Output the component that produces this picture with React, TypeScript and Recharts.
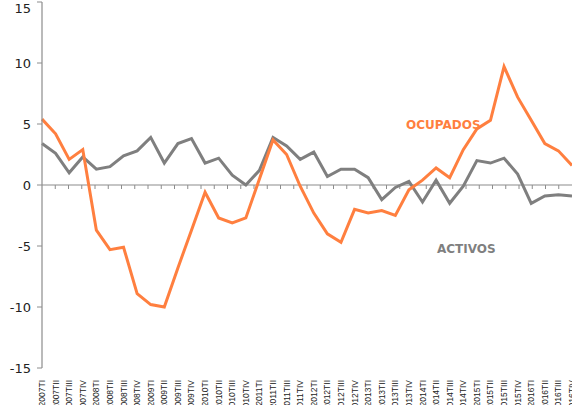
import React from "react";
import { LineChart, Line, XAxis, YAxis, ReferenceLine } from "recharts";

const quarters = [
  "2007TI", "2007TII", "2007TIII", "2007TIV",
  "2008TI", "2008TII", "2008TIII", "2008TIV",
  "2009TI", "2009TII", "2009TIII", "2009TIV",
  "2010TI", "2010TII", "2010TIII", "2010TIV",
  "2011TI", "2011TII", "2011TIII", "2011TIV",
  "2012TI", "2012TII", "2012TIII", "2012TIV",
  "2013TI", "2013TII", "2013TIII", "2013TIV",
  "2014TI", "2014TII", "2014TIII", "2014TIV",
  "2015TI", "2015TII", "2015TIII", "2015TIV",
  "2016TI", "2016TII", "2016TIII", "2016TIV",
];

const ocupados = [
  5.4, 4.2, 2.1, 2.9,
  -3.7, -5.3, -5.1, -8.9,
  -9.8, -10.0, -6.8, -3.7,
  -0.6, -2.7, -3.1, -2.7,
  0.5, 3.7, 2.5, -0.1,
  -2.3, -4.0, -4.7, -2.0,
  -2.3, -2.1, -2.5, -0.4,
  0.4, 1.4, 0.6, 2.9,
  4.6, 5.3, 9.7, 7.2,
  5.3, 3.4, 2.8, 1.6,
];

const activos = [
  3.4, 2.6, 1.0, 2.3,
  1.3, 1.5, 2.4, 2.8,
  3.9, 1.8, 3.4, 3.8,
  1.8, 2.2, 0.8, 0.0,
  1.2, 3.9, 3.2, 2.1,
  2.7, 0.7, 1.3, 1.3,
  0.6, -1.2, -0.2, 0.3,
  -1.4, 0.4, -1.5, -0.1,
  2.0, 1.8, 2.2, 0.9,
  -1.5, -0.9, -0.8, -0.9,
];

const yTicks = [-15, -10, -5, 0, 5, 10, 15];

const ORANGE = "#FF7F3F";
const GRAY = "#7F7F7F";
const AXIS = "#8C8C8C";
const FONT = "Verdana, 'DejaVu Sans', sans-serif";

const data = quarters.map((q, i) => ({ q, ocupados: ocupados[i], activos: activos[i] }));

function QuarterTick({ x, y, payload }: { x?: number; y?: number; payload?: { value: string } }) {
  return (
    <text
      transform={`translate(${x},${(y ?? 0) + 4}) rotate(-90)`}
      textAnchor="end"
      dominantBaseline="central"
      fontSize={8.5}
      fontFamily="'Liberation Sans', Arial, sans-serif"
      fill="#222"
    >
      {payload?.value}
    </text>
  );
}

// zero line with little tick marks between categories, like the Excel axis
function ZeroAxis(props: any) {
  const { x1, x2, y1 } = props;
  const n = quarters.length;
  const step = (x2 - x1) / n;
  const marks = [];
  for (let i = 1; i < n; i++) {
    const x = x1 + step * i;
    marks.push(<line key={i} x1={x} x2={x} y1={y1} y2={y1 + 4} stroke={AXIS} strokeWidth={1} />);
  }
  return (
    <g>
      <line x1={x1} x2={x2} y1={y1} y2={y1} stroke={AXIS} strokeWidth={1.2} />
      {marks}
    </g>
  );
}

export default function App() {
  return (
    <div style={{ position: "absolute", left: 0, top: 0, background: "#fff" }}>
      <LineChart width={572} height={405} data={data} margin={{ top: 2, right: 0, bottom: 0, left: 0 }}>
        <XAxis
          dataKey="q"
          interval={0}
          height={37}
          axisLine={false}
          tickLine={false}
          tick={<QuarterTick />}
        />
        <YAxis
          domain={[-15, 15]}
          ticks={yTicks}
          width={42}
          axisLine={{ stroke: AXIS, strokeWidth: 1.2 }}
          tickLine={{ stroke: AXIS }}
          tickSize={5}
          tickMargin={6}
          tick={{ fontSize: 13, fontFamily: FONT, fill: "#222" }}
        />
        <ReferenceLine y={0} shape={<ZeroAxis />} />
        <Line
          dataKey="activos"
          stroke={GRAY}
          strokeWidth={3}
          dot={false}
          type="linear"
          isAnimationActive={false}
        />
        <Line
          dataKey="ocupados"
          stroke={ORANGE}
          strokeWidth={3}
          dot={false}
          type="linear"
          isAnimationActive={false}
        />
      </LineChart>
      <div
        style={{
          position: "absolute",
          left: 406,
          top: 118,
          color: ORANGE,
          fontFamily: FONT,
          fontWeight: "bold",
          fontSize: 12,
        }}
      >
        OCUPADOS
      </div>
      <div
        style={{
          position: "absolute",
          left: 437,
          top: 242,
          color: GRAY,
          fontFamily: FONT,
          fontWeight: "bold",
          fontSize: 12,
        }}
      >
        ACTIVOS
      </div>
    </div>
  );
}
